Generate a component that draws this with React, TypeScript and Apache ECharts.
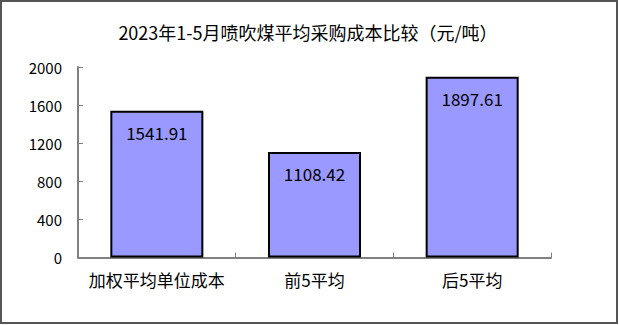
import React, { useEffect, useRef } from "react";
import * as echarts from "echarts";

const categories = ["加权平均单位成本", "前5平均", "后5平均"];
const values = [1541.91, 1108.42, 1897.61];
const yMin = 0;
const yMax = 2000;
const yInterval = 400;
const titleText = "2023年1-5月喷吹煤平均采购成本比较（元/吨）";

const FONT = "'Noto Sans CJK SC', 'Noto Sans', sans-serif";

export default function App() {
  const ref = useRef<HTMLDivElement>(null);
  useEffect(() => {
    if (!ref.current) return;
    const chart = echarts.init(ref.current, null, { renderer: "svg" });
    chart.setOption({
      animation: false,
      backgroundColor: "#ffffff",
      title: {
        text: titleText,
        left: 303,
        textAlign: "center",
        top: 18,
        textStyle: { fontFamily: FONT, fontSize: 18, fontWeight: "normal", color: "#000" },
      },
      graphic: [
        {
          type: "rect",
          shape: { x: 1, y: 1, width: 616, height: 322 },
          style: { fill: "none", stroke: "#555555", lineWidth: 2 },
          silent: true,
        },
      ],
      grid: { left: 78, right: 68, top: 67, bottom: 67.5 },
      xAxis: {
        type: "category",
        data: categories,
        boundaryGap: true,
        axisLine: { show: true, lineStyle: { color: "#808080", width: 2 } },
        axisTick: { show: true, inside: true, length: 5, interval: 0, lineStyle: { color: "#808080", width: 1 } },
        axisLabel: { fontFamily: FONT, fontSize: 17, color: "#000", margin: 13, interval: 0 },
        splitLine: { show: false },
      },
      yAxis: {
        type: "value",
        min: yMin,
        max: yMax,
        interval: yInterval,
        axisLine: { show: true, lineStyle: { color: "#808080", width: 2 } },
        axisTick: { show: true, inside: true, length: 5, lineStyle: { color: "#808080", width: 1 } },
        axisLabel: {
          fontFamily: FONT,
          fontSize: 15,
          color: "#000",
          margin: 16,
          formatter: (v: number) => String(v),
        },
        splitLine: { show: false },
      },
      series: [
        {
          type: "bar",
          data: values,
          barCategoryGap: "41%",
          itemStyle: { color: "#9999FF", borderColor: "#000000", borderWidth: 2 },
          label: {
            show: true,
            position: "insideTop",
            distance: 13,
            fontFamily: FONT,
            fontSize: 17,
            color: "#000",
            formatter: (p: any) => p.value.toFixed(2),
          },
        },
      ],
    });
    return () => chart.dispose();
  }, []);
  return (
    <div
      ref={ref}
      style={{ position: "absolute", left: 0, top: 0, width: 619, height: 325 }}
    />
  );
}
